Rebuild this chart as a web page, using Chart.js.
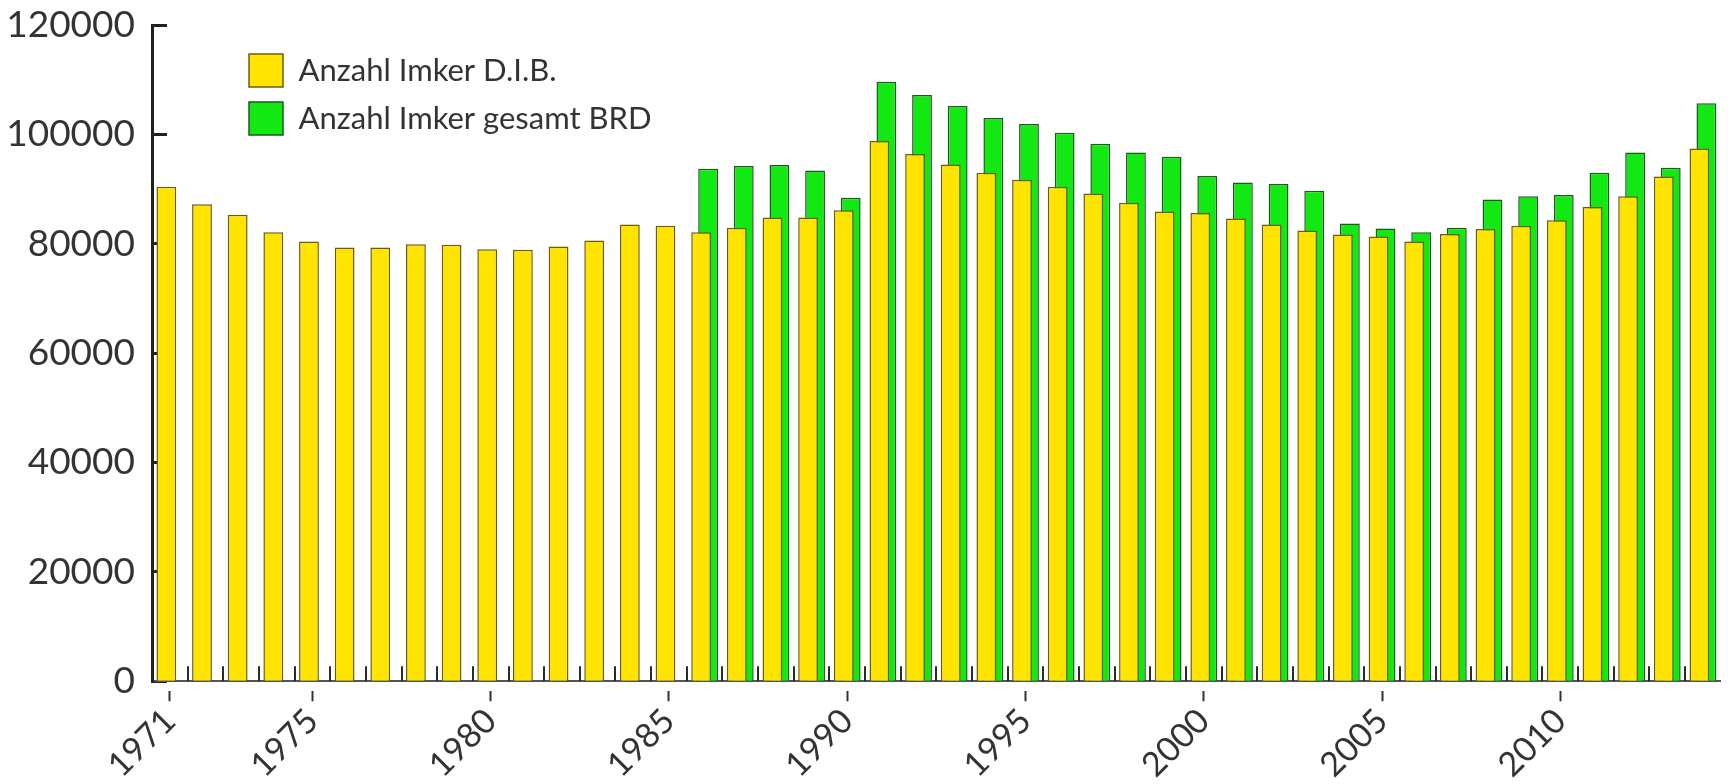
<!DOCTYPE html>
<html>
<head>
<meta charset="utf-8">
<script src="https://cdn.jsdelivr.net/npm/chart.js@4.4.1/dist/chart.umd.min.js"></script>
<style>
   html, body { margin: 0; padding: 0; background: #fff; }
   #wrap { width: 1729px; height: 784px; }
</style>
</head>
<body>
<div id="wrap"><canvas id="imkerChart"></canvas></div>
<script>
// Jahre (Kategorien)
const years = [
   "1971", "1972", "1973", "1974", "1975", "1976", "1977", "1978", "1979", "1980",
   "1981", "1982", "1983", "1984", "1985", "1986", "1987", "1988", "1989", "1990",
   "1991", "1992", "1993", "1994", "1995", "1996", "1997", "1998", "1999", "2000",
   "2001", "2002", "2003", "2004", "2005", "2006", "2007", "2008", "2009", "2010",
   "2011", "2012", "2013", "2014",
]

// Anzahl Imker D.I.B.
const imkerDIB = [
   90400, 87200, 85300, 82100, 80400, 79300, 79300, 79900, 79800, 79000,
   78900, 79500, 80600, 83500, 83300, 82100, 82900, 84800, 84800, 86100,
   98800, 96400, 94500, 93000, 91700, 90400, 89200, 87500, 85900, 85600,
   84600, 83500, 82400, 81700, 81300, 80400, 81800, 82700, 83300, 84300,
   86700, 88700, 92300, 97400,
]

// Anzahl Imker gesamt BRD (erst ab 1986)
const imkerBRD = [
   null, null, null, null, null, null, null, null, null, null,
   null, null, null, null, null, 93700, 94200, 94400, 93400, 88400,
   109600, 107200, 105200, 103000, 101900, 100300, 98300, 96700, 95900, 92400,
   91200, 90900, 89700, 83700, 82800, 82100, 82900, 88100, 88700, 88900,
   93000, 96700, 93900, 105700,
]

// beschriftete Jahre auf der x-Achse
const labeledYears = ["1971", "1975", "1980", "1985", "1990", "1995", "2000", "2005", "2010"]

const seriesNames = ["Anzahl Imker D.I.B.", "Anzahl Imker gesamt BRD"]

const textColor = "#333"
const fontFamily = "Lato, 'Open Sans', sans-serif"

// kleine Striche nach oben zwischen den Jahren
const yearTicks = {
   id: "yearTicks",
   afterDatasetsDraw(chart) {
      const { ctx } = chart
      const x = chart.scales.x
      const y = chart.scales.y
      const base = y.getPixelForValue(0)
      ctx.save()
      ctx.strokeStyle = "#2a2a2a"
      ctx.lineWidth = 2
      ctx.beginPath()
      for (let i = 1; i < years.length; i++) {
         const px = Math.round(x.getPixelForValue(i - 0.5))
         ctx.moveTo(px, base)
         ctx.lineTo(px, base - 15)
      }
      ctx.stroke()
      ctx.restore()
   },
}

// Legende in die Zeichenfläche schieben
const legendShift = {
   id: "legendShift",
   afterLayout(chart) {
      const lg = chart.legend
      if (!lg) return
      lg.left = chart.chartArea.left + 82
      lg.top = chart.chartArea.top + 14
      lg.right = lg.left + lg.width
      lg.bottom = lg.top + lg.height
   },
}

const ctxImker = document.getElementById("imkerChart").getContext("2d")
const imkerChart = new Chart(ctxImker, {
   type: "bar",
   data: {
      labels: years,
      datasets: [
         {
            label: seriesNames[0],
            data: imkerDIB,
            backgroundColor: "#ffe400",
            borderColor: "#6b5c0c",
            borderWidth: 1.5,
            categoryPercentage: 0.39,
            barPercentage: 2.85,
         },
         {
            label: seriesNames[1],
            data: imkerBRD,
            backgroundColor: "#12e812",
            borderColor: "#1c5a1c",
            borderWidth: 1.5,
            categoryPercentage: 0.39,
            barPercentage: 2.85,
         },
      ],
   },
   options: {
      responsive: true,
      maintainAspectRatio: false,
      animation: false,
      layout: {
         padding: { left: 0, right: 3, top: 0, bottom: -1 },
      },
      plugins: {
         legend: {
            position: "chartArea",
            align: "start",
            labels: {
               boxWidth: 34,
               boxHeight: 33,
               padding: 15,
               color: textColor,
               font: { family: fontFamily, size: 31 },
            },
         },
         tooltip: { enabled: false },
      },
      scales: {
         x: {
            offset: true,
            border: { color: "#555", width: 2 },
            grid: {
               offset: false,
               drawOnChartArea: false,
               tickLength: 20,
               tickWidth: 2,
               tickBorderDash: [0, 9, 11, 60],
               tickColor: c =>
                  labeledYears.includes(years[c.index]) ? textColor : "rgba(0,0,0,0)",
            },
            ticks: {
               autoSkip: false,
               minRotation: 45,
               maxRotation: 45,
               padding: 2,
               color: textColor,
               font: { family: fontFamily, size: 34, lineHeight: 1 },
               callback: (v, i) => (labeledYears.includes(years[i]) ? years[i] : ""),
            },
         },
         y: {
            min: 0,
            max: 120000,
            border: { color: "#222", width: 3 },
            grid: {
               drawOnChartArea: false,
               tickLength: -15,
               tickWidth: 3,
               tickColor: "#222",
            },
            ticks: {
               stepSize: 20000,
               padding: 32,
               color: textColor,
               font: { family: fontFamily, size: 37 },
               callback: v => String(v),
            },
            afterFit: scale => {
               scale.width = 152
               scale.paddingTop = 25
               scale.paddingBottom = 0
            },
         },
      },
   },
   plugins: [yearTicks, legendShift],
})
</script>
</body>
</html>
